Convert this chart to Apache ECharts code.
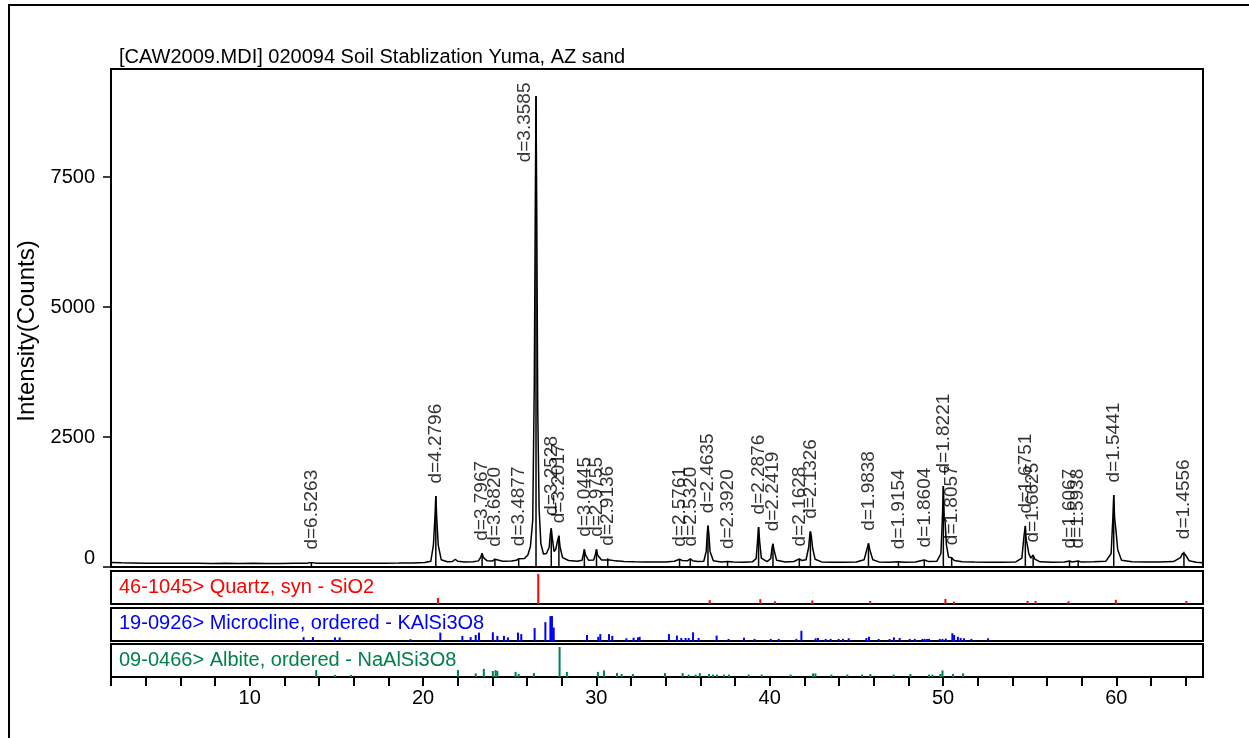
<!DOCTYPE html>
<html><head><meta charset="utf-8">
<script src="https://cdn.jsdelivr.net/npm/echarts@6/dist/echarts.min.js"></script>
<style>html,body{margin:0;padding:0;background:#fff}#c{width:1249px;height:738px}</style>
</head><body><div id="c"></div>
<script>
// ---- measured scan (2-theta, counts) ----
const scanAngle = [2.0,2.6,3.2,4.0,4.8,5.5,6.3,7.0,7.8,8.6,9.4,10.2,11.0,11.8,12.6,13.3,13.48,13.56,13.64,13.85,14.6,15.4,16.2,17.0,17.8,18.6,19.4,20.1,20.45,20.6,20.68,20.74,20.8,20.88,21.05,21.4,21.7,21.86,22.0,22.4,22.9,23.2,23.33,23.41,23.49,23.7,24.0,24.1,24.15,24.22,24.6,25.1,25.38,25.52,25.62,25.85,26.05,26.2,26.33,26.42,26.48,26.52,26.56,26.62,26.7,26.8,26.95,27.12,27.28,27.35,27.40,27.46,27.56,27.66,27.76,27.84,27.91,28.05,28.4,28.9,29.18,29.26,29.31,29.37,29.55,29.85,29.95,30.01,30.07,30.3,30.55,30.66,30.78,31.1,31.6,32.2,32.8,33.4,34.0,34.5,34.8,34.95,35.25,35.42,35.55,35.85,36.2,36.34,36.4,36.44,36.49,36.56,36.75,37.2,37.57,37.9,38.5,39.0,39.22,39.3,39.36,39.42,39.52,39.85,40.06,40.14,40.19,40.25,40.4,40.9,41.4,41.71,41.85,42.1,42.25,42.32,42.35,42.4,42.48,42.62,43.0,43.6,44.3,45.0,45.45,45.6,45.7,45.78,45.95,46.3,46.9,47.43,47.8,48.4,48.92,49.15,49.65,49.88,49.96,50.02,50.07,50.12,50.2,50.32,50.5,50.65,51.1,51.8,52.6,53.4,54.2,54.55,54.68,54.75,54.8,54.86,54.95,55.07,55.2,55.3,55.6,56.3,57.0,57.3,57.45,57.8,57.95,58.7,59.4,59.7,59.8,59.85,59.9,59.98,60.08,60.3,60.9,61.7,62.5,63.3,63.7,63.82,63.9,63.98,64.2,64.6,65.0];
const scanCounts = [85,80,78,74,73,71,70,72,69,70,68,70,69,68,70,71,84,95,84,71,70,71,70,72,73,75,78,85,110,420,900,1365,900,420,140,100,105,150,110,98,102,118,190,265,180,118,115,140,150,128,112,115,130,158,140,165,230,400,900,3500,7000,9060,7000,3000,1100,450,250,260,380,650,745,560,300,340,500,602,380,180,125,112,130,260,340,240,130,135,250,340,230,135,135,170,135,118,105,100,96,94,98,112,150,125,118,155,122,105,110,300,650,795,650,300,120,98,105,95,93,100,160,500,770,500,170,105,160,380,445,330,130,98,105,155,125,140,380,640,686,600,360,150,98,92,92,96,140,330,455,330,140,98,92,102,92,96,135,108,112,260,900,1558,950,870,420,190,180,125,100,94,92,90,98,170,620,790,520,430,260,170,230,150,100,93,95,115,97,115,98,100,112,260,950,1385,950,700,330,130,100,96,96,104,180,260,295,240,120,92,83];

// ---- labelled peaks ----
const peakAngle = [13.56,20.74,23.41,24.15,25.52,26.52,27.40,27.84,29.31,30.01,30.66,34.80,35.42,36.44,37.57,39.36,40.19,41.71,42.35,45.70,47.43,48.92,50.02,50.50,54.75,55.20,57.30,57.80,59.85,63.90];
const peakCounts = [95,1365,265,150,158,9060,745,602,340,340,170,150,155,795,105,770,445,155,686,455,102,135,1558,180,790,230,115,115,1385,295];
const peakLabels = ['d=6.5263','d=4.2796','d=3.7967','d=3.6820','d=3.4877','d=3.3585','d=3.2528','d=3.2017','d=3.0445','d=2.9755','d=2.9136','d=2.5761','d=2.5320','d=2.4635','d=2.3920','d=2.2876','d=2.2419','d=2.1628','d=2.1326','d=1.9838','d=1.9154','d=1.8604','d=1.8221','d=1.8057','d=1.6751','d=1.6625','d=1.6067','d=1.5938','d=1.5441','d=1.4556'];

// ---- reference patterns (2-theta, relative intensity) ----
const quartzName = '46-1045> Quartz, syn - SiO2';
const quartzAngle = [20.86,26.65,36.54,39.46,40.30,42.46,45.80,50.14,50.63,54.88,55.34,57.24,59.97,64.04];
const quartzInt   = [20,100,13,16,9,12,10,17,8,10,10,9,14,10];

const microName = '19-0926> Microcline, ordered - KAlSi3O8';
const microAngle = [13.11,13.65,14.92,15.19,19.28,21.00,22.27,22.75,23.04,23.23,24.03,24.29,24.67,24.90,25.48,25.67,26.44,27.06,27.35,27.44,27.54,29.46,30.11,30.23,30.73,30.92,31.73,32.15,32.40,32.50,34.19,34.65,34.90,35.15,35.33,35.58,35.90,36.94,37.63,38.52,39.13,40.06,40.52,41.54,41.83,42.65,42.79,43.23,43.52,43.98,44.23,44.56,45.58,45.73,46.29,46.92,47.17,47.50,48.08,48.37,48.81,48.94,49.08,49.19,49.81,49.97,50.16,50.54,50.64,50.86,51.02,51.21,51.64,52.60];
const microInt   = [13,13,12,12,6,28,17,13,20,28,29,17,17,12,28,23,43,63,83,83,45,20,14,23,23,17,9,11,12,14,23,18,10,10,10,29,10,18,7,11,7,7,7,7,34,9,10,7,7,7,7,9,10,14,7,7,12,10,7,7,7,7,7,7,7,7,8,26,20,14,10,9,7,9];

const albiteName = '09-0466> Albite, ordered - NaAlSi3O8';
const albiteAngle = [13.84,14.92,15.84,22.02,23.04,23.51,24.03,24.19,24.29,25.34,25.52,26.40,27.88,28.30,30.09,30.44,31.19,31.46,32.11,33.96,34.98,35.33,35.73,35.97,36.50,36.73,36.96,37.36,37.65,38.79,39.54,41.21,42.50,42.64,43.56,44.48,45.33,45.81,47.16,48.12,49.19,49.39,49.85,49.97,50.58,51.16];
const albiteInt   = [23,7,7,23,12,27,20,23,20,17,10,13,100,17,17,22,13,10,10,13,13,8,8,13,10,8,8,8,8,8,8,8,12,12,8,8,8,10,8,10,8,8,10,22,10,12];

// ---- axes ----
const titleText = '[CAW2009.MDI] 020094 Soil Stablization Yuma, AZ sand';
const yAxisTitle = 'Intensity(Counts)';
const yTickValues = [0, 2500, 5000, 7500];
const xLabelValues = [10, 20, 30, 40, 50, 60];
const xTickValues = [2,4,6,8,10,12,14,16,18,20,22,24,26,28,30,32,34,36,38,40,42,44,46,48,50,52,54,56,58,60,62,64];

const FONT = '"Liberation Sans", Arial, sans-serif';
const zip = (a, b) => a.map((v, i) => [v, b[i]]);

const chart = echarts.init(document.getElementById('c'), null, {renderer: 'canvas'});

const L = 111, W = 1092;
const grids = [
  {left: L, top: 69, width: W, height: 498},
  {left: L, top: 571, width: W, height: 33},
  {left: L, top: 608, width: W, height: 33},
  {left: L, top: 644, width: W, height: 33}
].map(g => Object.assign(g, {show: true, borderColor: '#000', borderWidth: 2, backgroundColor: 'transparent'}));

const hiddenX = i => ({
  type: 'value', gridIndex: i, min: 2, max: 65,
  axisLine: {show: false}, axisTick: {show: false}, axisLabel: {show: false}, splitLine: {show: false}
});
const xAxes = [hiddenX(0), hiddenX(1), hiddenX(2), {
  type: 'value', gridIndex: 3, min: 2, max: 65,
  axisLine: {show: false}, splitLine: {show: false},
  axisTick: {show: true, inside: false, length: 9, customValues: xTickValues, lineStyle: {color: '#000', width: 2}},
  axisLabel: {show: true, customValues: xLabelValues, margin: 11, fontSize: 20, color: '#000', fontFamily: FONT}
}];

const hiddenY = i => ({
  type: 'value', gridIndex: i, min: 0, max: 110,
  axisLine: {show: false}, axisTick: {show: false}, axisLabel: {show: false}, splitLine: {show: false}
});
const yAxes = [{
  type: 'value', gridIndex: 0, min: 0, max: 9580,
  axisLine: {show: false}, splitLine: {show: false},
  axisTick: {show: true, inside: false, length: 8, customValues: yTickValues, lineStyle: {color: '#000', width: 1.5}},
  axisLabel: {show: true, customValues: yTickValues, margin: 16, fontSize: 20, color: '#000', fontFamily: FONT,
    formatter: v => v === 0 ? '{z|0}' : String(v),
    rich: {z: {fontSize: 20, color: '#000', fontFamily: FONT, padding: [0, 0, 18, 0]}}}
}, hiddenY(1), hiddenY(2), hiddenY(3)];

const labelData = peakAngle.map((a, i) => {
  const item = {value: [a, peakCounts[i]]};
  if (peakCounts[i] > 8000) {
    item.label = {position: [-11, -13], align: 'right', verticalAlign: 'middle'};
  }
  return item;
});

chart.setOption({
  animation: false,
  backgroundColor: '#fff',
  grid: grids,
  xAxis: xAxes,
  yAxis: yAxes,
  graphic: [
    {type: 'rect', shape: {x: 9, y: 5, width: 1400, height: 900}, style: {fill: 'none', stroke: '#000', lineWidth: 2}, silent: true},
    {type: 'text', x: 119, y: 57, style: {text: titleText, font: '20px ' + FONT, fill: '#000', textVerticalAlign: 'middle'}},
    {type: 'text', x: 27, y: 331, rotation: Math.PI / 2, style: {text: yAxisTitle, font: '24px ' + FONT, fill: '#000', textAlign: 'center', textVerticalAlign: 'middle'}},
    {type: 'text', x: 119, y: 587, style: {text: quartzName, font: '20px ' + FONT, fill: '#ff0000', textVerticalAlign: 'middle'}},
    {type: 'text', x: 119, y: 623, style: {text: microName, font: '20px ' + FONT, fill: '#0000ff', textVerticalAlign: 'middle'}},
    {type: 'text', x: 119, y: 660, style: {text: albiteName, font: '20px ' + FONT, fill: '#00804a', textVerticalAlign: 'middle'}}
  ],
  series: [
    {type: 'bar', xAxisIndex: 0, yAxisIndex: 0, data: zip(peakAngle, peakCounts), barWidth: 1.5,
      itemStyle: {color: '#000'}, z: 2, silent: true},
    {type: 'line', xAxisIndex: 0, yAxisIndex: 0, data: zip(scanAngle, scanCounts), showSymbol: false,
      lineStyle: {color: '#000', width: 1.5}, z: 3, silent: true},
    {type: 'scatter', xAxisIndex: 0, yAxisIndex: 0, data: labelData, symbolSize: 1,
      itemStyle: {color: 'rgba(0,0,0,0)'}, z: 4, silent: true,
      label: {show: true, position: 'top', distance: 12, rotate: 90, align: 'left', verticalAlign: 'middle',
        fontSize: 19, color: '#000', fontFamily: FONT,
        formatter: p => peakLabels[p.dataIndex]}},
    {type: 'bar', xAxisIndex: 1, yAxisIndex: 1, data: zip(quartzAngle, quartzInt), barWidth: 2,
      itemStyle: {color: '#ff0000'}, silent: true},
    {type: 'bar', xAxisIndex: 2, yAxisIndex: 2, data: zip(microAngle, microInt), barWidth: 2,
      itemStyle: {color: '#0000ff'}, silent: true},
    {type: 'bar', xAxisIndex: 3, yAxisIndex: 3, data: zip(albiteAngle, albiteInt), barWidth: 2,
      itemStyle: {color: '#00804a'}, silent: true}
  ]
});
</script></body></html>
